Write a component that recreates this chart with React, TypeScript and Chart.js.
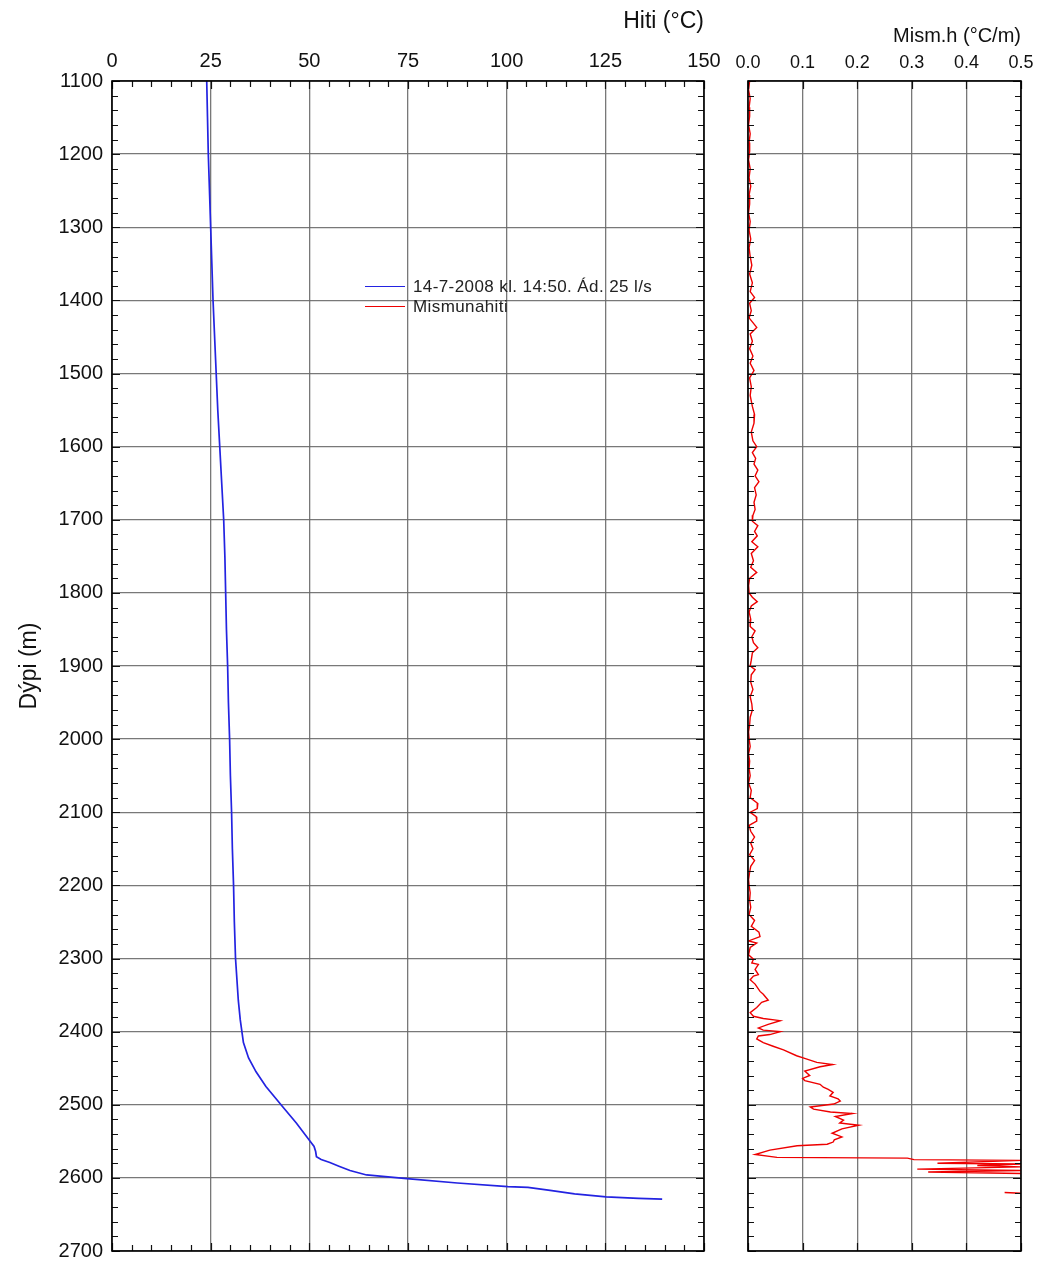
import React, { useEffect, useRef } from 'react';
import { Chart, registerables } from 'chart.js';

Chart.register(...registerables);

const FONT = "'Liberation Sans', Arial, Helvetica, sans-serif";
const BLUE = 'rgb(35,35,225)';
const RED = 'rgb(238,0,0)';
const GRID = 'rgba(105,105,105,0.9)';

// Depth range (m)
const depthMin = 1100;
const depthMax = 2700;

// Temperature log (Hiti, °C) vs depth (m)
const tempDepth = [
  1100, 1150, 1200, 1250, 1300, 1350, 1400, 1450, 1500, 1550, 1600, 1650, 1700, 1750, 1800,
  1850, 1900, 1950, 2000, 2050, 2100, 2150, 2200, 2250, 2300, 2357, 2384, 2415, 2436, 2455,
  2475, 2503, 2525, 2550, 2557, 2564, 2571, 2575, 2579, 2584, 2590, 2596, 2601, 2607, 2612,
  2613, 2617, 2622, 2626, 2628, 2629,
];
const tempValues = [
  24.0, 24.2, 24.4, 24.7, 25.0, 25.3, 25.6, 26.0, 26.4, 26.8, 27.3, 27.8, 28.3, 28.6, 28.8,
  29.0, 29.3, 29.5, 29.8, 30.0, 30.3, 30.5, 30.8, 31.0, 31.3, 32.0, 32.5, 33.3, 34.6, 36.5,
  39.0, 43.3, 46.7, 50.2, 51.2, 51.6, 51.8, 53.0, 55.2, 57.5, 60.3, 64.5, 74.7, 87.5, 100.3,
  105.4, 111.0, 117.2, 125.2, 133.4, 139.4,
];

// Differential temperature (Mismunahiti, °C/m) vs depth (m)
const diffDepth = [
  1100, 1112, 1124, 1136, 1148, 1160, 1172, 1184, 1196, 1208, 1220, 1232, 1244, 1256, 1268,
  1280, 1292, 1304, 1316, 1328, 1340, 1352, 1364, 1376, 1388, 1396, 1404, 1414, 1424, 1437,
  1446, 1456, 1466, 1476, 1486, 1496, 1506, 1518, 1530, 1545, 1556, 1568, 1580, 1592, 1600,
  1608, 1616, 1624, 1632, 1640, 1648, 1656, 1666, 1676, 1686, 1694, 1702, 1708, 1716, 1722,
  1730, 1737, 1746, 1756, 1765, 1772, 1780, 1790, 1800, 1806, 1812, 1818, 1826, 1836, 1846,
  1852, 1860, 1868, 1875, 1882, 1892, 1900, 1905, 1912, 1922, 1932, 1942, 1952, 1960, 1970,
  1980, 1990, 2000, 2010, 2020, 2030, 2040, 2050, 2060, 2070, 2080, 2088, 2095, 2100, 2106,
  2112, 2118, 2126, 2134, 2142, 2150, 2158, 2166, 2174, 2182, 2192, 2200, 2210, 2220, 2230,
  2240, 2248, 2256, 2264, 2270, 2276, 2279, 2285, 2295, 2301, 2306, 2308, 2315, 2322, 2324,
  2329, 2335, 2345, 2349, 2357, 2360, 2367, 2374, 2379, 2382, 2385, 2390, 2395, 2398, 2400,
  2404, 2406, 2410, 2415, 2420, 2425, 2433, 2436, 2442, 2445, 2448, 2454, 2460, 2464, 2467,
  2472, 2476, 2479, 2483, 2488, 2492, 2495, 2499, 2503, 2506, 2510, 2512, 2516, 2521, 2525,
  2528, 2533, 2539, 2544, 2548, 2551, 2554, 2556, 2562, 2568, 2572, 2573, 2575, 2576, 2580,
  2581, 2583, 2585, 2588, 2590, 2592, 2594, 2605, 2620, 2621,
];
const diffValues: (number | null)[] = [
  0.003, 0.001, 0.004, 0.002, 0.003, 0.001, 0.004, 0.002, 0.003, 0.001, 0.004, 0.002, 0.005, 0.002, 0.003,
  0.001, 0.004, 0.002, 0.005, 0.002, 0.004, 0.007, 0.003, 0.008, 0.004, 0.012, 0.003, 0.006, 0.002, 0.016,
  0.004, 0.008, 0.003, 0.009, 0.004, 0.011, 0.003, 0.006, 0.004, 0.008, 0.012, 0.011, 0.006, 0.009, 0.016,
  0.008, 0.014, 0.011, 0.018, 0.013, 0.02, 0.012, 0.015, 0.011, 0.013, 0.009, 0.008, 0.018, 0.012, 0.017,
  0.007, 0.018, 0.006, 0.01, 0.005, 0.016, 0.003, 0.001, 0.002, 0.008, 0.017, 0.006, 0.002, 0.005, 0.004,
  0.013, 0.007, 0.01, 0.018, 0.008, 0.006, 0.004, 0.013, 0.006, 0.005, 0.009, 0.004, 0.007, 0.008, 0.004,
  0.003, 0.001, 0.002, 0.004, 0.001, 0.003, 0.002, 0.004, 0.001, 0.006, 0.004, 0.018, 0.017, 0.004, 0.015,
  0.016, 0.002, 0.005, 0.012, 0.005, 0.009, 0.003, 0.012, 0.005, 0.003, 0.001, 0.002, 0.004, 0.003, 0.005,
  0.002, 0.012, 0.006, 0.02, 0.022, 0.001, 0.016, 0.004, 0.001, 0.01, 0.007, 0.019, 0.013, 0.019, 0.01,
  0.004, 0.013, 0.022, 0.028, 0.037, 0.025, 0.016, 0.004, 0.01, 0.028, 0.059, 0.037, 0.019, 0.028, 0.059,
  0.04, 0.019, 0.016, 0.028, 0.046, 0.065, 0.089, 0.101, 0.126, 0.155, 0.132, 0.104, 0.113, 0.1, 0.104,
  0.132, 0.138, 0.147, 0.156, 0.15, 0.165, 0.169, 0.157, 0.114, 0.12, 0.151, 0.191, 0.16, 0.175, 0.168,
  0.203, 0.172, 0.154, 0.172, 0.158, 0.156, 0.145, 0.09, 0.04, 0.013, 0.053, 0.292, 0.304, 0.5, 0.347,
  0.5, 0.42, 0.5, 0.31, 0.5, 0.33, 0.5, null, 0.47, 0.5,
];

const tempLabel = '14-7-2008 kl. 14:50. Ád. 25 l/s';
const diffLabel = 'Mismunahiti';
const tempTitle = 'Hiti (°C)';
const diffTitle = 'Mism.h (°C/m)';
const depthTitle = 'Dýpi (m)';

type TickCfg = {
  xTicks: number[];
  xMajorEvery: number;
  yTicks: number[];
};

const frameTicks = (cfg: TickCfg) => ({
  id: 'frameTicks',
  afterDraw(chart: any) {
    const { ctx, chartArea: a, scales } = chart;
    const xs = scales.x;
    const ys = scales.y;
    ctx.save();
    ctx.strokeStyle = '#111';
    ctx.lineWidth = 1.2;
    ctx.beginPath();
    for (const v of cfg.xTicks) {
      const px = Math.round(xs.getPixelForValue(v)) + 0.5;
      const major = Math.abs(v / cfg.xMajorEvery - Math.round(v / cfg.xMajorEvery)) < 1e-6;
      const len = major ? 8 : 6;
      ctx.moveTo(px, a.top);
      ctx.lineTo(px, a.top + len);
      ctx.moveTo(px, a.bottom);
      ctx.lineTo(px, a.bottom - len);
    }
    for (const v of cfg.yTicks) {
      const py = Math.round(ys.getPixelForValue(v)) + 0.5;
      const len = v % 100 === 0 ? 8 : 6;
      ctx.moveTo(a.left, py);
      ctx.lineTo(a.left + len, py);
      ctx.moveTo(a.right, py);
      ctx.lineTo(a.right - len, py);
    }
    ctx.stroke();
    ctx.lineWidth = 1.6;
    ctx.strokeStyle = '#000';
    ctx.strokeRect(a.left, a.top, a.right - a.left, a.bottom - a.top);
    ctx.restore();
  },
});

const depthTicks: number[] = [];
for (let d = depthMin; d <= depthMax; d += 20) depthTicks.push(d);
const tempMinorTicks: number[] = [];
for (let t = 0; t <= 150; t += 5) tempMinorTicks.push(t);
const diffMinorTicks = [0, 0.1, 0.2, 0.3, 0.4, 0.5];

const fixHorizontal = (h: number) => (s: any) => {
  s.height = h;
  s.paddingLeft = 0;
  s.paddingRight = 0;
};
const fixVertical = (w: number) => (s: any) => {
  s.width = w;
  s.paddingTop = 0;
  s.paddingBottom = 0;
};

export default function App() {
  const leftRef = useRef<HTMLCanvasElement | null>(null);
  const rightRef = useRef<HTMLCanvasElement | null>(null);

  useEffect(() => {
    if (!leftRef.current || !rightRef.current) return;

    const left = new Chart(leftRef.current, {
      type: 'scatter',
      data: {
        datasets: [
          {
            label: tempLabel,
            data: tempDepth.map((d, i) => ({ x: tempValues[i], y: d })),
            showLine: true,
            borderColor: BLUE,
            backgroundColor: BLUE,
            borderWidth: 1.7,
            pointRadius: 0,
            tension: 0,
          } as any,
        ],
      },
      options: {
        animation: false,
        responsive: false,
        maintainAspectRatio: false,
        layout: { padding: { left: 0, right: 16, top: 0, bottom: 17 } },
        plugins: { legend: { display: false }, tooltip: { enabled: false } },
        scales: {
          x: {
            type: 'linear',
            position: 'top',
            min: 0,
            max: 150,
            ticks: {
              stepSize: 25,
              padding: 8,
              maxRotation: 0,
              color: '#111',
              font: { family: FONT, size: 20 },
            },
            grid: { color: GRID, lineWidth: 1.3, drawTicks: false },
            border: { display: false },
            title: {
              display: true,
              text: tempTitle,
              align: 'end',
              color: '#111',
              font: { family: FONT, size: 23 },
              padding: { top: 8, bottom: 0 },
            },
            afterFit: fixHorizontal(81),
          },
          y: {
            type: 'linear',
            reverse: true,
            min: depthMin,
            max: depthMax,
            ticks: {
              stepSize: 100,
              padding: 9,
              color: '#111',
              font: { family: FONT, size: 20 },
              callback: (v: any) => String(v),
            },
            grid: { color: GRID, lineWidth: 1.3, drawTicks: false },
            border: { display: false },
            title: {
              display: true,
              text: depthTitle,
              color: '#111',
              font: { family: FONT, size: 23 },
              padding: { top: 16, bottom: 0 },
            },
            afterFit: fixVertical(112),
          },
        },
      } as any,
      plugins: [frameTicks({ xTicks: tempMinorTicks, xMajorEvery: 25, yTicks: depthTicks })],
    });

    const right = new Chart(rightRef.current, {
      type: 'scatter',
      data: {
        datasets: [
          {
            label: diffLabel,
            data: diffDepth.map((d, i) => ({ x: diffValues[i], y: d })),
            showLine: true,
            spanGaps: false,
            borderColor: RED,
            backgroundColor: RED,
            borderWidth: 1.4,
            pointRadius: 0,
            tension: 0,
          } as any,
        ],
      },
      options: {
        animation: false,
        responsive: false,
        maintainAspectRatio: false,
        layout: { padding: { left: 0, right: 19, top: 0, bottom: 17 } },
        plugins: { legend: { display: false }, tooltip: { enabled: false } },
        scales: {
          x: {
            type: 'linear',
            position: 'top',
            min: 0,
            max: 0.5,
            ticks: {
              stepSize: 0.1,
              padding: 7,
              maxRotation: 0,
              color: '#111',
              font: { family: FONT, size: 18 },
              callback: (v: any) => Number(v).toFixed(1),
            },
            grid: { color: GRID, lineWidth: 1.3, drawTicks: false },
            border: { display: false },
            title: {
              display: true,
              text: diffTitle,
              align: 'end',
              color: '#111',
              font: { family: FONT, size: 20 },
              padding: { top: 24, bottom: 0 },
            },
            afterFit: fixHorizontal(81),
          },
          y: {
            type: 'linear',
            reverse: true,
            min: depthMin,
            max: depthMax,
            ticks: { stepSize: 100, display: false },
            grid: { color: GRID, lineWidth: 1.3, drawTicks: false },
            border: { display: false },
            afterFit: fixVertical(28),
          },
        },
      } as any,
      plugins: [frameTicks({ xTicks: diffMinorTicks, xMajorEvery: 0.1, yTicks: depthTicks })],
    });

    return () => {
      left.destroy();
      right.destroy();
    };
  }, []);

  const legendText: React.CSSProperties = {
    position: 'absolute',
    left: 413,
    fontFamily: FONT,
    fontSize: 17,
    letterSpacing: '0.4px',
    color: '#222',
    lineHeight: '20px',
    whiteSpace: 'nowrap',
  };
  const legendLine = (color: string, top: number): React.CSSProperties => ({
    position: 'absolute',
    left: 365,
    top,
    width: 40,
    height: 0,
    borderTop: `1.5px solid ${color}`,
  });

  return (
    <div style={{ position: 'absolute', left: 0, top: 0, width: 1040, height: 1268, background: '#fff' }}>
      <canvas
        ref={leftRef}
        width={720}
        height={1268}
        style={{ position: 'absolute', left: 0, top: 0, width: 720, height: 1268 }}
      />
      <canvas
        ref={rightRef}
        width={320}
        height={1268}
        style={{ position: 'absolute', left: 720, top: 0, width: 320, height: 1268 }}
      />
      <div style={legendLine(BLUE, 286)} />
      <div style={{ ...legendText, top: 277 }}>{tempLabel}</div>
      <div style={legendLine(RED, 306)} />
      <div style={{ ...legendText, top: 297 }}>{diffLabel}</div>
    </div>
  );
}
